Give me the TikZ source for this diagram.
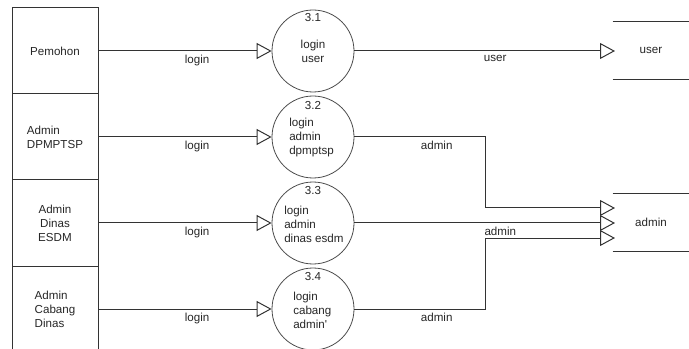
\documentclass[tikz,border=0pt]{standalone}
\usepackage{fontspec}
\setmainfont{Liberation Sans}
\usetikzlibrary{arrows.meta}
\begin{document}
\begin{tikzpicture}[x=0.75pt,y=-0.75pt,
  every node/.style={font=\fontsize{8.7}{10.5}\selectfont, text=black!85},
  entity/.style={draw=black!80, line width=0.75pt, minimum width=64.5pt, minimum height=64.5pt, inner sep=0pt},
  proc/.style={draw=black!70, line width=0.6pt, circle, minimum size=61.5pt, inner sep=0pt},
  store/.style={minimum width=57pt, minimum height=42.75pt, inner sep=0pt},
  flow/.style={draw=black!80, line width=0.75pt, -{Triangle[open, length=11.25pt, width=12pt]}},
  lbl/.style={inner sep=0pt}
]
\useasboundingbox (0,0) rectangle (689,349);
% entities
\node[entity, align=center] (pem) at (55,51) {Pemohon};
\node[entity, align=left] (dpm) at (55,137) {Admin\\DPMPTSP};
\node[entity, align=center] (esdm) at (55,223) {Admin\\Dinas\\ESDM};
\node[entity, align=left] (cab) at (55,309) {Admin\\Cabang\\Dinas};
% processes
\node[proc] (p1) at (313,51) {};
\node[proc] (p2) at (313,137) {};
\node[proc] (p3) at (313,223) {};
\node[proc] (p4) at (313,309) {};
\node[lbl] (n1) at (313,18) {3.1};
\node[lbl, align=center] (t1) at (313,51.5) {login\\user};
\node[lbl] (n2) at (313,106) {3.2};
\node[lbl, align=left, anchor=west] (t2) at (289,138) {login\\admin\\dpmptsp};
\node[lbl] (n3) at (313,191) {3.3};
\node[lbl, align=left, anchor=west] (t3) at (284,224) {login\\admin\\dinas esdm};
\node[lbl] (n4) at (313,277) {3.4};
\node[lbl, align=left, anchor=west] (t4) at (293,310) {login\\cabang\\admin\textquotesingle};
% stores
\node[store] (us) at (651,50.5) {user};
\draw[black!80, line width=0.75pt] (us.north west) -- (us.north east) (us.south west) -- (us.south east);
\node[store] (ad) at (651,222.5) {admin};
\draw[black!80, line width=0.75pt] (ad.north west) -- (ad.north east) (ad.south west) -- (ad.south east);
\coordinate (eu) at (615,51);
\coordinate (ea2) at (615,208);
\coordinate (ea3) at (615,223);
\coordinate (ea4) at (615,238);
\coordinate (b2) at (485,137);
\coordinate (b4) at (485,309);
% flows
\draw[flow] (pem.east) -- node[lbl, below=3pt, pos=0.57] (l1) {login} (p1.west);
\draw[flow] (dpm.east) -- node[lbl, below=3pt, pos=0.57] (l2) {login} (p2.west);
\draw[flow] (esdm.east) -- node[lbl, below=3pt, pos=0.57] (l3) {login} (p3.west);
\draw[flow] (cab.east) -- node[lbl, below=3pt, pos=0.57] (l4) {login} (p4.west);
\draw[flow] (p1.east) -- node[lbl, below=3pt, pos=0.54] (lu) {user} (eu);
\draw[flow] (p2.east) -- node[lbl, below=3pt, pos=0.63] (la2) {admin} (b2) |- (ea2);
\draw[flow] (p3.east) -- node[lbl, below=3pt, pos=0.56] (la3) {admin} (ea3);
\draw[flow] (p4.east) -- node[lbl, below=3pt, pos=0.63] (la4) {admin} (b4) |- (ea4);
\end{tikzpicture}
\end{document}
